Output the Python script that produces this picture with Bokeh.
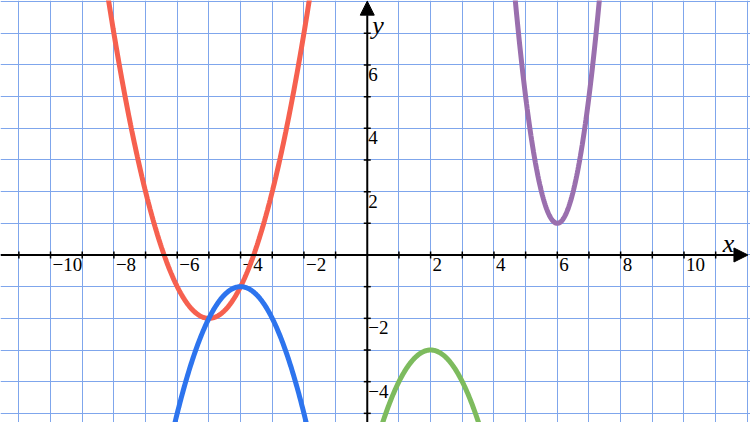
import numpy as np
from bokeh.plotting import figure
from bokeh.models import Arrow, NormalHead, SingleIntervalTicker
from bokeh.core.properties import value
from bokeh.embed import file_html
from bokeh.resources import INLINE

# Parabolas y = a*(x - h)^2 + k
curve_names = ["red", "blue", "green", "purple"]
curve_h = [-5, -4, 2, 6]
curve_k = [-2, -1, -3, 1]
curve_a = [1, -1, -1, 4]
curve_colors = ["#f6604f", "#2d74ee", "#7dbb5e", "#9a6fae"]

x_ticks = [-11, -10, -9, -8, -7, -6, -5, -4, -3, -2, -1, 1, 2, 3, 4, 5, 6, 7, 8, 9, 10, 11]
y_ticks = [-5, -4, -3, -2, -1, 1, 2, 3, 4, 5, 6, 7]
x_labels = [-10, -8, -6, -4, -2, 2, 4, 6, 8, 10]
y_labels = [-4, -2, 2, 4, 6]

X0, X1 = -11.58, 12.10
Y0, Y1 = -5.289, 8.036

p = figure(width=750, height=422, x_range=(X0, X1), y_range=(Y0, Y1),
           output_backend="svg", toolbar_location=None, min_border=0,
           x_axis_location=None, y_axis_location=None)
p.outline_line_color = None
p.background_fill_color = "white"
p.border_fill_color = "white"

grid_color = "#7fa6ec"
p.xgrid.ticker = SingleIntervalTicker(interval=1)
p.ygrid.ticker = SingleIntervalTicker(interval=1)
p.xgrid.grid_line_color = grid_color
p.ygrid.grid_line_color = grid_color
p.xgrid.grid_line_width = 1
p.ygrid.grid_line_width = 1

# axes with arrows
p.add_layout(Arrow(end=NormalHead(size=14, fill_color="black", line_color="black"),
                   x_start=X0, y_start=0, x_end=X1 - 0.08, y_end=0,
                   line_color="black", line_width=2))
p.add_layout(Arrow(end=NormalHead(size=14, fill_color="black", line_color="black"),
                   x_start=0, y_start=Y0, x_end=0, y_end=Y1 - 0.02,
                   line_color="black", line_width=2))

# ticks
p.scatter(x=x_ticks, y=[0] * len(x_ticks), marker="dash", size=7, angle=np.pi / 2,
          line_color="black", line_width=1.5)
p.scatter(x=[0] * len(y_ticks), y=y_ticks, marker="dash", size=7,
          line_color="black", line_width=1.5)

def fmt(v):
    return ("\u2212" + str(-v)) if v < 0 else str(v)

serif = value("Liberation Serif")
p.text(x=x_labels, y=[0] * len(x_labels), text=[fmt(v) for v in x_labels],
       text_font=serif, text_font_size="19px", text_align="left",
       text_baseline="top", x_offset=2, y_offset=3, text_color="black")
p.text(x=[0] * len(y_labels), y=y_labels, text=[fmt(v) for v in y_labels],
       text_font=serif, text_font_size="19px", text_align="left",
       text_baseline="top", x_offset=1, y_offset=3, text_color="black")

# axis names
p.text(x=[11.22], y=[0], text=["x"], text_font=serif, text_font_style="italic",
       text_font_size="26px", text_align="left", text_baseline="alphabetic",
       y_offset=-11, text_color="black")
p.text(x=[0], y=[7.26], text=["y"], text_font=serif, text_font_style="italic",
       text_font_size="26px", text_align="left", text_baseline="alphabetic",
       x_offset=5, text_color="black")

# curves
xs = np.linspace(X0, X1, 1200)
for h, k, a, c in zip(curve_h, curve_k, curve_a, curve_colors):
    ys = a * (xs - h) ** 2 + k
    mask = (ys > Y0 - 1) & (ys < Y1 + 1)
    p.line(xs[mask], ys[mask], line_color=c, line_width=5, line_cap="round")

open("out.html", "w").write(file_html(p, INLINE))
